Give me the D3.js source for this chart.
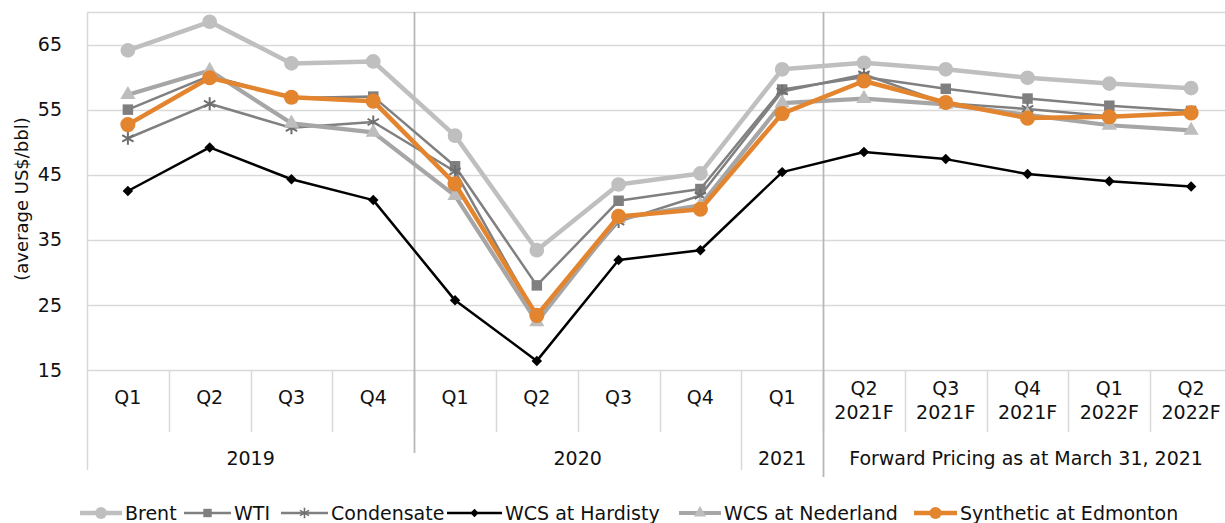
<!DOCTYPE html>
<html>
<head>
<meta charset="utf-8">
<script src="https://cdn.jsdelivr.net/npm/d3@7"></script>
<style>
  html, body { margin: 0; padding: 0; background: #fff; }
  svg { display: block; font-family: "DejaVu Sans", Verdana, sans-serif; }
</style>
</head>
<body>
<svg id="chart" width="1225" height="523"></svg>
<script>
// ---- Data ----
const quarterLabels = ["Q1","Q2","Q3","Q4","Q1","Q2","Q3","Q4","Q1",
  "Q2|2021F","Q3|2021F","Q4|2021F","Q1|2022F","Q2|2022F"];
const groupLabels = ["2019", "2020", "2021", "Forward Pricing as at March 31, 2021"];
const groupSizes = [4, 4, 1, 5];
const yTicks = [15, 25, 35, 45, 55, 65];

const brent      = [64.1, 68.5, 62.1, 62.4, 51.0, 33.4, 43.5, 45.2, 61.2, 62.2, 61.2, 59.9, 59.0, 58.3];
const wti        = [55.0, 60.2, 56.8, 57.0, 46.3, 28.0, 41.0, 42.8, 58.1, 60.0, 58.2, 56.7, 55.6, 54.8];
const condensate = [50.6, 55.9, 52.2, 53.1, 45.5, 23.2, 37.8, 41.8, 57.8, 60.4, 56.0, 55.1, 54.0, 54.4];
const hardisty   = [42.5, 49.2, 44.3, 41.1, 25.7, 16.4, 31.9, 33.4, 45.4, 48.5, 47.4, 45.1, 44.0, 43.2];
const nederland  = [57.3, 61.0, 52.9, 51.5, 41.8, 22.4, 38.3, 40.3, 56.0, 56.7, 55.8, 54.2, 52.6, 51.8];
const synthetic  = [52.7, 59.9, 56.9, 56.3, 43.6, 23.4, 38.6, 39.7, 54.4, 59.4, 56.1, 53.7, 53.9, 54.5];

const seriesNames = ["Brent", "WTI", "Condensate", "WCS at Hardisty", "WCS at Nederland", "Synthetic at Edmonton"];
const seriesValues = [brent, wti, condensate, hardisty, nederland, synthetic];

// ---- Styles ----
const styles = [
  { line: "#bfbfbf", width: 4.5, marker: "circle",   fill: "#bfbfbf", size: 170 },
  { line: "#808080", width: 2.5, marker: "square",   fill: "#7f7f7f", size: 110 },
  { line: "#808080", width: 2.5, marker: "star",     fill: "#6f6f6f", size: 6.5 },
  { line: "#000000", width: 2.5, marker: "diamond",  fill: "#000000", size: 70 },
  { line: "#a6a6a6", width: 4.2, marker: "triangle", fill: "#bdbdbd", size: 100 },
  { line: "#e3852f", width: 4.5, marker: "circle",   fill: "#e3852f", size: 180 }
];

const FS = 19;
const svg = d3.select("#chart");
const pLeft = 87, pRight = 1232, pTop = 12, pBottom = 370;
const keys = quarterLabels.map((d, i) => i);

const x = d3.scaleBand().domain(keys).range([pLeft, pRight]).padding(0);
const y = d3.scaleLinear().domain([15, 70]).range([pBottom, pTop]);

const gridColor = "#d9d9d9";
const sepColor = "#b8b8b8";

// Horizontal gridlines
const grid = svg.append("g");
grid.selectAll("line").data(yTicks.concat([70])).join("line")
  .attr("x1", pLeft).attr("x2", 1225)
  .attr("y1", d => Math.round(y(d)) + 0.5).attr("y2", d => Math.round(y(d)) + 0.5)
  .attr("stroke", gridColor).attr("stroke-width", 1.5);

// Y axis labels
const yAxis = d3.axisLeft(y).tickValues(yTicks).tickSize(0).tickPadding(0);
const yg = svg.append("g").attr("transform", `translate(${pLeft - 25},0)`).call(yAxis);
yg.select(".domain").remove();
yg.selectAll("text").attr("font-size", FS).attr("fill", "#111").attr("font-family", "DejaVu Sans, Verdana, sans-serif");

svg.append("text")
  .attr("transform", `translate(23,${(pTop + pBottom) / 2 + 8}) rotate(-90)`)
  .attr("text-anchor", "middle").attr("dominant-baseline", "middle")
  .attr("font-size", 18).attr("fill", "#111")
  .text("(average US$/bbl)");

// Category boundaries
const qRowBottom = 432, yearRowBottom = 470;
const groupEnds = [];
{ let acc = 0; groupSizes.forEach(n => { acc += n; groupEnds.push(acc); }); }

const sep = svg.append("g");
sep.append("line").attr("x1", pLeft + 0.5).attr("x2", pLeft + 0.5).attr("y1", pTop).attr("y2", yearRowBottom)
  .attr("stroke", gridColor).attr("stroke-width", 1.5);
sep.selectAll("line.q").data(d3.range(1, keys.length)).join("line").attr("class", "q")
  .attr("x1", i => Math.round(x(i)) + 0.5).attr("x2", i => Math.round(x(i)) + 0.5)
  .attr("y1", pBottom).attr("y2", qRowBottom)
  .attr("stroke", gridColor).attr("stroke-width", 1.5);
const majorSeps = [{ idx: groupEnds[0], y2: 453, full: true }, { idx: groupEnds[1], y2: yearRowBottom, full: false }, { idx: groupEnds[2], y2: 477, full: true }];
sep.selectAll("line.g").data(majorSeps).join("line").attr("class", "g")
  .attr("x1", d => Math.round(x(d.idx)) + 0.5).attr("x2", d => Math.round(x(d.idx)) + 0.5)
  .attr("y1", d => d.full ? pTop : qRowBottom).attr("y2", d => d.y2)
  .attr("stroke", d => d.full ? sepColor : gridColor).attr("stroke-width", d => d.full ? 1.8 : 1.5);

// Quarter labels
const ql = svg.append("g").attr("font-size", FS).attr("fill", "#111").attr("text-anchor", "middle");
quarterLabels.forEach((lab, i) => {
  const parts = lab.split("|");
  const cx = x(i) + x.bandwidth() / 2;
  if (parts.length === 1) {
    ql.append("text").attr("x", cx).attr("y", 404).text(parts[0]);
  } else {
    ql.append("text").attr("x", cx).attr("y", 395).text(parts[0]);
    ql.append("text").attr("x", cx).attr("y", 419).text(parts[1]);
  }
});

// Group labels
{
  let start = 0;
  groupLabels.forEach((lab, gi) => {
    const end = start + groupSizes[gi];
    const x0 = x(start), x1 = (end < keys.length) ? x(end) : pRight;
    const cx = (gi === groupLabels.length - 1) ? (x0 + 1225) / 2 + 2 : (x0 + x1) / 2;
    ql.append("text").attr("x", cx).attr("y", 465).text(lab);
    start = end;
  });
}

function markerPath(style, scale) {
  const s = scale || 1;
  if (style.marker === "star") {
    const r = style.size * s;
    const a = r * 0.87, b = r * 0.5;
    return `M0,${-r}L0,${r}M${-a},${-b}L${a},${b}M${-a},${b}L${a},${-b}`;
  }
  const type = { circle: d3.symbolCircle, square: d3.symbolSquare, diamond: d3.symbolDiamond2, triangle: d3.symbolTriangle }[style.marker];
  return d3.symbol().type(type).size(style.size * s * s)();
}

const line = d3.line().x((d, i) => x(i) + x.bandwidth() / 2).y(d => y(d));

const plot = svg.append("g");
seriesValues.forEach((vals, si) => {
  const st = styles[si];
  const g = plot.append("g");
  g.append("path").datum(vals).attr("d", line)
    .attr("fill", "none").attr("stroke", st.line).attr("stroke-width", st.width)
    .attr("stroke-linejoin", "round");
  g.selectAll("path.m").data(vals).join("path").attr("class", "m")
    .attr("transform", (d, i) => `translate(${x(i) + x.bandwidth() / 2},${y(d)})`)
    .attr("d", markerPath(st))
    .attr("fill", st.marker === "star" ? "none" : st.fill)
    .attr("stroke", st.marker === "star" ? st.fill : "none")
    .attr("stroke-width", st.marker === "star" ? 2 : 0);
});

// Legend
const legLineStart = [80, 184, 281, 447, 679, 914];
const legLineLen = [42, 47, 47, 55, 42, 43];
const legY = 513;
const leg = svg.append("g");
seriesNames.forEach((name, si) => {
  const st = styles[si];
  const x0 = legLineStart[si], len = legLineLen[si];
  leg.append("line").attr("x1", x0).attr("x2", x0 + len).attr("y1", legY).attr("y2", legY)
    .attr("stroke", st.line).attr("stroke-width", st.width);
  leg.append("path").attr("transform", `translate(${x0 + len / 2},${legY})`)
    .attr("d", markerPath(st, 0.8))
    .attr("fill", st.marker === "star" ? "none" : st.fill)
    .attr("stroke", st.marker === "star" ? st.fill : "none")
    .attr("stroke-width", st.marker === "star" ? 1.6 : 0);
  leg.append("text").attr("x", x0 + len + 3).attr("y", legY).attr("dominant-baseline", "central")
    .attr("font-size", FS).attr("fill", "#111").text(name);
});
</script>
</body>
</html>
